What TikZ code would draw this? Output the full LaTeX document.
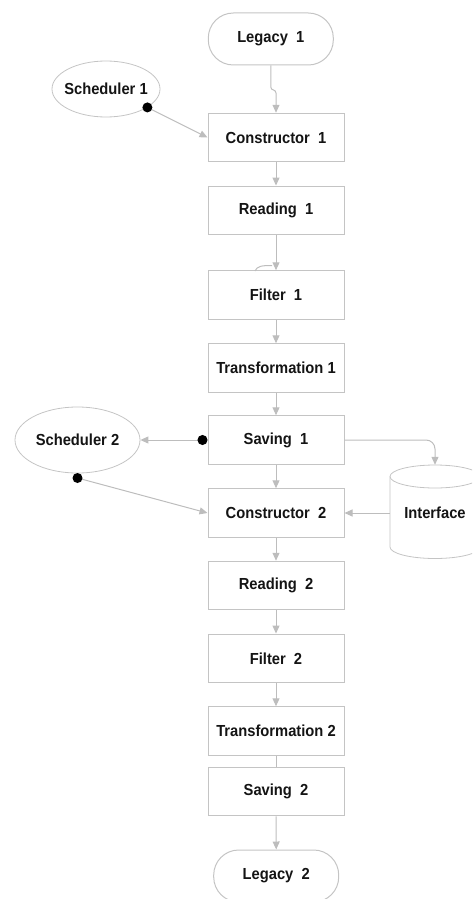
\documentclass[tikz,border=0pt]{standalone}
\usepackage{fontspec}
\newfontfamily\lab{Liberation Sans}[FakeStretch=0.92]
\usetikzlibrary{arrows.meta,calc,shapes.geometric}
\definecolor{edge}{HTML}{C4C4C4}
\definecolor{wire}{HTML}{BDBDBD}
\definecolor{ink}{HTML}{141414}
\begin{document}
\begin{tikzpicture}[x=1pt,y=-1pt,
  every node/.style={font=\lab\bfseries\fontsize{16}{18}\selectfont, text=ink},
  stepbox/.style={draw=edge, line width=1pt, rectangle, minimum width=136, minimum height=48.5, inner sep=0},
  term/.style={draw=edge, line width=1pt, rectangle, rounded corners=25, minimum width=125, minimum height=52, inner sep=0},
  sched/.style={draw=edge, line width=0.8pt, ellipse, inner sep=0},
  conn/.style={draw=wire, line width=1pt, -{Triangle[length=8,width=7]}},
  plain/.style={draw=wire, line width=1pt},
  dot/.style={fill=black}
]
\useasboundingbox (0,0) rectangle (472,899);
\clip (0,0) rectangle (472,899);

\node[term] (l1) at (270.8,39) {Legacy\ \ 1};
\node[stepbox] (c1) at (276,137.5) {Constructor\ \ 1};
\node[stepbox] (r1) at (276,210.3) {Reading\ \ 1};
\node[stepbox] (f1) at (276,295) {Filter\ \ 1};
\node[stepbox] (t1) at (276,368) {Transformation 1};
\node[stepbox] (s1) at (276,440) {Saving\ \ 1};
\node[stepbox] (c2) at (276,513) {Constructor\ \ 2};
\node[stepbox] (r2) at (276,585.5) {Reading\ \ 2};
\node[stepbox] (f2) at (276,658.3) {Filter\ \ 2};
\node[stepbox] (t2) at (276,731) {Transformation 2};
\node[stepbox] (v2) at (276,791.5) {Saving\ \ 2};
\node[term] (l2) at (276.2,876) {Legacy\ \ 2};

\node[sched, minimum width=108, minimum height=56] (h1) at (106,89) {\makebox[0pt][c]{Scheduler 1}};
\node[sched, minimum width=125, minimum height=66] (h2) at (77.5,440) {\makebox[0pt][c]{Scheduler 2}};

% Interface cylinder
\node[minimum width=90, minimum height=96, inner sep=0] (db) at (435,513) {Interface};
\draw[edge, line width=0.8pt] (390,476.5) -- (390,547) arc[start angle=180, end angle=360, x radius=45, y radius=-11.5] -- (480,476.5);
\draw[edge, line width=0.8pt] (435,476.5) ellipse[x radius=45, y radius=11.5];

% connectors
\coordinate (j1) at (270.8,87);
\coordinate (j2) at (276,93);
\draw[conn] (l1.south) -- (j1) .. controls (270.8,91) and (276,89) .. (j2) -- (c1.north);
\draw[conn] (c1.south) -- (r1.north);
\draw[conn] (r1.south) -- (f1.north);
\coordinate (hk) at (255,271);
\draw[plain] (hk) .. controls (257,266) and (262,265.5) .. (272,265.5);
\draw[conn] (f1.south) -- (t1.north);
\draw[conn] (t1.south) -- (s1.north);
\draw[conn] (s1.south) -- (c2.north);
\draw[conn] (c2.south) -- (r2.north);
\draw[conn] (r2.south) -- (f2.north);
\draw[conn] (f2.south) -- (t2.north);
\draw[plain] (t2.south) -- (v2.north);
\draw[conn] (v2.south) -- (l2.north);

% scheduler links
\coordinate (d1) at (h1.-24);
\draw[conn] (d1) -- (c1.west);
\fill[dot] (d1) circle (5);
\draw[wire, line width=1pt, {Circle[length=10,fill=black,color=black]}-{Triangle[length=8,width=7]}] (s1.west) -- (h2.east);
\coordinate (d2) at ($(h2.south)+(0,4.6)$);
\draw[conn] (d2) -- (c2.west);
\fill[dot] (d2) circle (5);

% interface links
\draw[conn, rounded corners=9] (s1.east) -- (435,440) -- (db.north);
\draw[conn] (db.west) -- (c2.east);
\end{tikzpicture}
\end{document}
